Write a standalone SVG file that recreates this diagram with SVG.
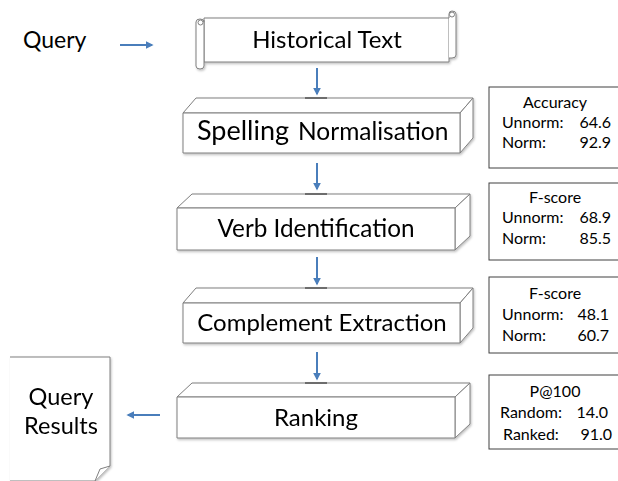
<svg xmlns="http://www.w3.org/2000/svg" width="618" height="481" viewBox="0 0 618 481">
  <style>
    .lbl { font-family: Lato, "Liberation Sans", sans-serif; fill: #000; }
    .box { fill: #fff; stroke: #7f7f7f; stroke-width: 1; stroke-linejoin: round; }
    .lid { stroke: #595959; stroke-width: 1.6; }
    .stat { fill: #fff; stroke: #404040; stroke-width: 1; }
    .st { font-family: Lato, "Liberation Sans", sans-serif; font-size: 16px; fill: #000; }
    .arrow { stroke: #4a7ebb; stroke-width: 2; fill: none; marker-end: url(#head); }
  </style>
  <defs>
    <marker id="head" viewBox="0 0 10 10" refX="8" refY="5" markerWidth="4" markerHeight="4" orient="auto">
      <path d="M0,0 L10,5 L0,10 z" fill="#4a7ebb"/>
    </marker>
    <filter id="shadow" x="-5%" y="-10%" width="115%" height="130%">
      <feDropShadow dx="1" dy="1.5" stdDeviation="1" flood-color="#000" flood-opacity="0.25"/>
    </filter>
  </defs>

  <rect width="618" height="481" fill="#fff"/>

  <!-- input label -->
  <g id="query">
    <text class="lbl" x="23" y="48" font-size="23">Query</text>
  </g>

  <!-- scroll-shaped source node -->
  <g id="historical-text" filter="url(#shadow)">
    <path class="box" d="M204,18 L449,18 L449,62 L204,62 Z"/>
    <path class="box" d="M449,18 L449,14 Q449,11 452,11 Q456,11 456,14 L456,55 Q456,58 452,58 L449,58"/>
    <circle class="box" cx="452" cy="14.5" r="2.5"/>
    <path class="box" d="M204,20 L204,66 Q204,69 200,69 Q196,69 196,66 L196,22 Q196,19 200,19 Q204,19 204,22"/>
    <circle class="box" cx="200.5" cy="22.5" r="2.5"/>
    <text class="lbl" x="327" y="48" font-size="24" text-anchor="middle">Historical Text</text>
  </g>

  <!-- processing stages drawn as flat 3D blocks -->
  <g id="spelling-normalisation" filter="url(#shadow)">
    <polygon class="box" points="183,113 196,98 473,98 460,113"/>
    <polygon class="box" points="460,113 473,98 473,138 460,153"/>
    <rect class="box" x="183" y="113" width="277" height="40"/>
    <line class="lid" x1="305" y1="98" x2="327" y2="98"/>
    <text class="lbl" x="197" y="140" font-size="27">Spelling</text>
    <text class="lbl" x="298" y="140" font-size="24.5">Normalisation</text>
  </g>

  <g id="verb-identification" filter="url(#shadow)">
    <polygon class="box" points="177,208 192,194 470,194 455,208"/>
    <polygon class="box" points="455,208 470,194 470,236 455,250"/>
    <rect class="box" x="177" y="208" width="278" height="42"/>
    <line class="lid" x1="305" y1="194" x2="327" y2="194"/>
    <text class="lbl" x="316" y="237" font-size="24.3" text-anchor="middle">Verb Identification</text>
  </g>

  <g id="complement-extraction" filter="url(#shadow)">
    <polygon class="box" points="183,303 196,288 473,288 460,303"/>
    <polygon class="box" points="460,303 473,288 473,328 460,343"/>
    <rect class="box" x="183" y="303" width="277" height="40"/>
    <line class="lid" x1="305" y1="288" x2="327" y2="288"/>
    <text class="lbl" x="322" y="331" font-size="24" text-anchor="middle">Complement Extraction</text>
  </g>

  <g id="ranking" filter="url(#shadow)">
    <polygon class="box" points="177,397 192,383 470,383 455,397"/>
    <polygon class="box" points="455,397 470,383 470,424 455,438"/>
    <rect class="box" x="177" y="397" width="278" height="41"/>
    <line class="lid" x1="305" y1="383" x2="327" y2="383"/>
    <text class="lbl" x="316" y="426" font-size="24" text-anchor="middle">Ranking</text>
  </g>

  <!-- output document with folded corner -->
  <g id="query-results" filter="url(#shadow)">
    <path class="box" d="M10,357 L110,357 L110,466 L95,481 L10,481" stroke="#a6a6a6"/>
    <path class="box" d="M110,466 L100,469 L95,481" stroke="#a6a6a6"/>
    <text class="lbl" x="61" y="405" font-size="23.5" text-anchor="middle">Query</text>
    <text class="lbl" x="61" y="434" font-size="23.5" text-anchor="middle">Results</text>
  </g>

  <!-- evaluation tables -->
  <g id="score-spelling">
    <rect class="stat" x="489" y="87" width="140" height="81"/>
    <text class="st" x="555" y="108" text-anchor="middle">Accuracy</text>
    <text class="st" x="502" y="128">Unnorm:</text>
    <text class="st" x="611" y="128" text-anchor="end">64.6</text>
    <text class="st" x="502" y="148">Norm:</text>
    <text class="st" x="611" y="148" text-anchor="end">92.9</text>
  </g>

  <g id="score-verb">
    <rect class="stat" x="489" y="183" width="140" height="77"/>
    <text class="st" x="555" y="203" text-anchor="middle">F-score</text>
    <text class="st" x="502" y="223">Unnorm:</text>
    <text class="st" x="611" y="223" text-anchor="end">68.9</text>
    <text class="st" x="502" y="244">Norm:</text>
    <text class="st" x="611" y="244" text-anchor="end">85.5</text>
  </g>

  <g id="score-complement">
    <rect class="stat" x="489" y="277" width="140" height="76"/>
    <text class="st" x="555" y="299" text-anchor="middle">F-score</text>
    <text class="st" x="502" y="320">Unnorm:</text>
    <text class="st" x="609" y="320" text-anchor="end">48.1</text>
    <text class="st" x="502" y="341">Norm:</text>
    <text class="st" x="609" y="341" text-anchor="end">60.7</text>
  </g>

  <g id="score-ranking">
    <rect class="stat" x="489" y="375" width="140" height="74"/>
    <text class="st" x="555" y="397" text-anchor="middle">P@100</text>
    <text class="st" x="500" y="418">Random:</text>
    <text class="st" x="608" y="418" text-anchor="end">14.0</text>
    <text class="st" x="503" y="440">Ranked:</text>
    <text class="st" x="612" y="440" text-anchor="end">91.0</text>
  </g>

  <!-- connectors -->
  <g id="connectors">
    <line class="arrow" x1="120" y1="45" x2="152" y2="45"/>
    <line class="arrow" x1="317" y1="68" x2="317" y2="94"/>
    <line class="arrow" x1="317" y1="163" x2="317" y2="189"/>
    <line class="arrow" x1="317" y1="257" x2="317" y2="284"/>
    <line class="arrow" x1="317" y1="352" x2="317" y2="379"/>
    <line class="arrow" x1="160" y1="415" x2="128" y2="415"/>
  </g>
</svg>
